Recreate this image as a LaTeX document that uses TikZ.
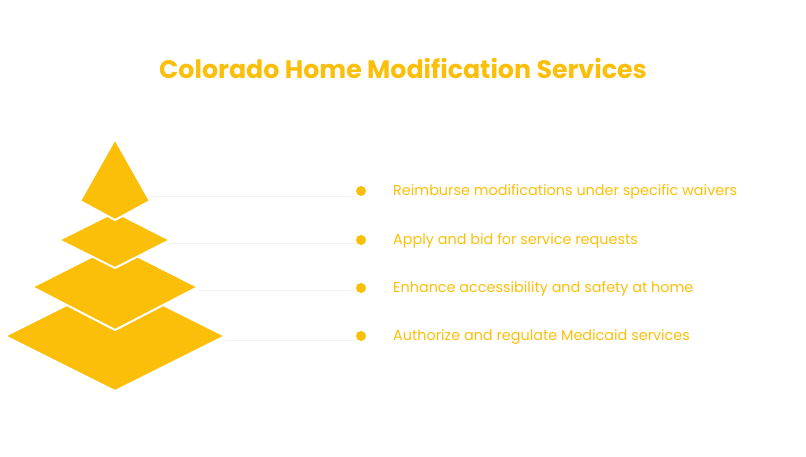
\documentclass[tikz,border=0pt]{standalone}
\usepackage{fontspec}
\setmainfont{Poppins}
\definecolor{gold}{HTML}{FBBF0A}
\definecolor{faint}{HTML}{F2F2F2}
\tikzset{
  layer/.style={fill=gold, draw=white, line width=2pt, line join=miter},
  dot/.style={circle, fill=gold, inner sep=0pt, minimum size=10pt},
  item/.style={anchor=west, text=gold, inner sep=0pt, font=\fontsize{14.4}{17}\selectfont},
  guide/.style={draw=faint, line width=1pt}
}
\begin{document}
\begin{tikzpicture}[x=1pt,y=-1pt]
	\useasboundingbox (0,0) rectangle (806,457);
	\node[text=gold, font=\bfseries\fontsize{25.3}{28}\selectfont] (title) at (403,68) {Colorado Home Modification Services};
	% layers, from the base up
	\filldraw[layer] (115,281)--(225,336)--(115,391)--(5,336)--cycle;
	\filldraw[layer] (115,245)--(198,287)--(115,330)--(32,287)--cycle;
	\filldraw[layer] (115,212)--(170,240)--(115,268)--(59,240)--cycle;
	\filldraw[layer] (115,139)--(150,201)--(115,220)--(80,201)--cycle;
	\coordinate (e1) at (150,197);
	\coordinate (e2) at (170,244);
	\coordinate (e3) at (198,290);
	\coordinate (e4) at (225,340);
	\foreach \i/\y/\t in {1/191/Reimburse modifications under specific waivers,
		2/240/Apply and bid for service requests,
		3/288/Enhance accessibility and safety at home,
		4/336/Authorize and regulate Medicaid services}{
		\node[dot] (d\i) at (361,\y) {};
		\node[item] (l\i) at (393,\y+1) {\t};
		\draw[guide] (e\i) -- (e\i -| d\i.west);
	}
\end{tikzpicture}
\end{document}
